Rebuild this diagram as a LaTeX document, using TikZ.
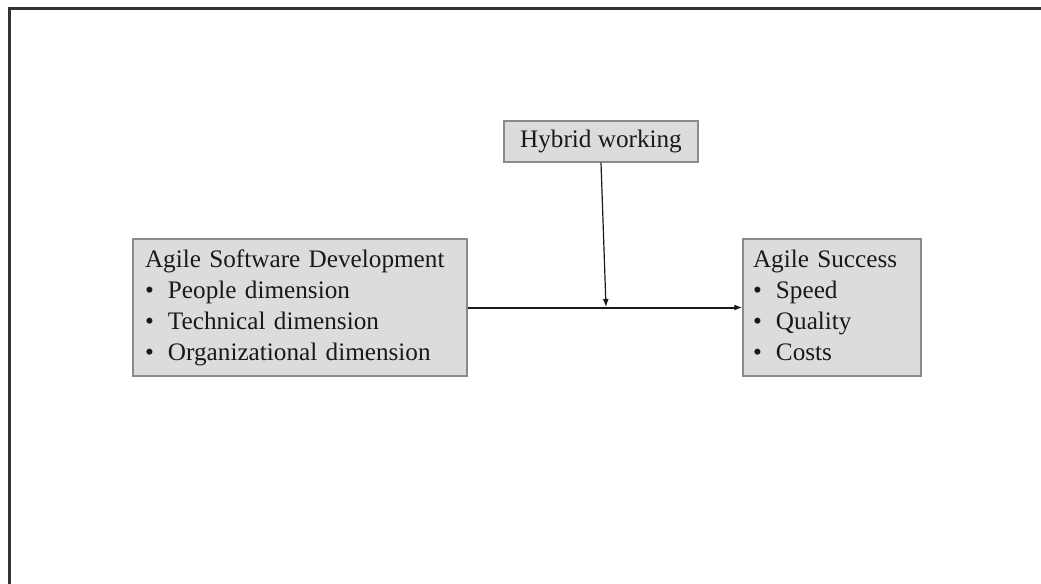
\documentclass[tikz,border=0pt]{standalone}
\usepackage{fontspec}
\setmainfont{Liberation Serif}
\usetikzlibrary{arrows.meta, positioning}
\definecolor{boxfill}{HTML}{DCDCDC}
\definecolor{boxline}{HTML}{8A8A8A}
\definecolor{framecol}{HTML}{333333}
\newcommand{\bitem}[1]{\makebox[11.5pt][l]{\textbullet}#1}
\begin{document}
\begin{tikzpicture}[x=0.5pt, y=-0.5pt,
  b/.style={draw=boxline, fill=boxfill, line width=0.6pt, inner sep=0pt, align=left,
    font=\fontsize{12.6}{15.5}\selectfont, text=black!90},
  ar/.style={-{Latex[length=4pt, width=3pt]}, black!90}]
        \useasboundingbox (0,0) rectangle (1041,584);
        \draw[framecol, line width=1.3pt] (9.5,584) |- (1041,8.5);

        \node[b, minimum width=167pt, minimum height=68.5pt, text width=155pt] (asd) at (300,307.5)
          {Agile Software Development\\ \bitem{People dimension}\\ \bitem{Technical dimension}\\ \bitem{Organizational dimension}};
        \node[b, minimum width=89pt, minimum height=68.5pt, text width=79pt] (succ) at (832,307.5)
          {Agile Success\\ \bitem{Speed}\\ \bitem{Quality}\\ \bitem{Costs}\vphantom{g}};
        \node[b, minimum width=97pt, minimum height=20.5pt, align=center] (hyb) at (601,141.5) {Hybrid working};

        \coordinate (mod) at (606,307);
        \draw[ar, line width=1pt] (asd) -- (succ);
        \draw[ar, line width=0.6pt] (hyb.south) -- (mod);
\end{tikzpicture}
\end{document}
